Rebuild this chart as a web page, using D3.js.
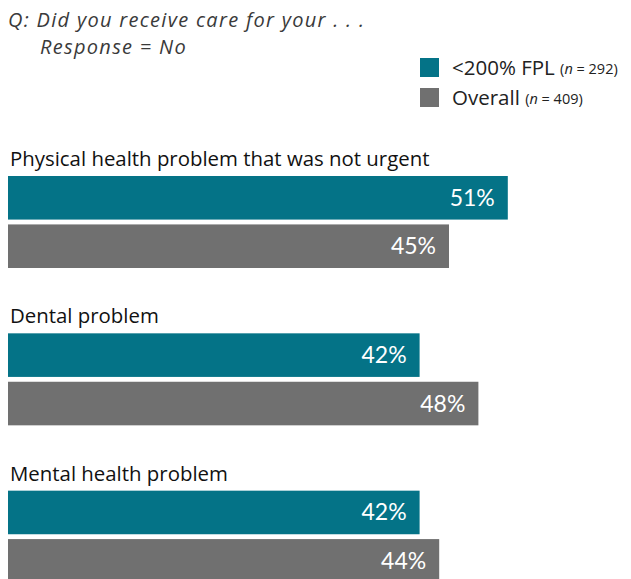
<!DOCTYPE html>
<html>
<head>
<meta charset="utf-8">
<script src="https://cdn.jsdelivr.net/npm/d3@7"></script>
<style>
  html, body { margin: 0; padding: 0; background: #fff; }
  svg { display: block; font-family: "Open Sans", Lato, sans-serif; }
</style>
</head>
<body>
<svg id="chart" width="631" height="579"></svg>
<script>
// Survey item: share answering "No" to receiving care
const categories = ["Physical health problem that was not urgent", "Dental problem", "Mental health problem"];
const seriesNames = ["<200% FPL", "Overall"];
const seriesN = ["292", "409"];
const fplValues = [51, 42, 42];
const overallValues = [45, 48, 44];
const colors = ["#047387", "#707070"];

const svg = d3.select("#chart");

// Question header
svg.append("text").attr("x", 8).attr("y", 27)
  .attr("font-size", 20).attr("font-style", "italic").attr("fill", "#3a3a3a")
  .attr("letter-spacing", 1.3)
  .text("Q: Did you receive care for your . . .");
svg.append("text").attr("x", 40).attr("y", 54)
  .attr("font-size", 20).attr("font-style", "italic").attr("fill", "#3a3a3a")
  .attr("letter-spacing", 1.3)
  .text("Response = No");

// Legend
const legend = svg.append("g");
seriesNames.forEach((name, i) => {
  const y0 = 58 + i * 30;
  legend.append("rect").attr("x", 420).attr("y", y0).attr("width", 19).attr("height", 19).attr("fill", colors[i]);
  const t = legend.append("text").attr("x", 452).attr("y", y0 + 17).attr("fill", "#222")
    .attr("font-size", 20.5);
  t.append("tspan").text(name + " ");
  const s = t.append("tspan").attr("font-size", 14.5).attr("dy", -1);
  s.append("tspan").text("(");
  s.append("tspan").attr("font-style", "italic").text("n");
  s.append("tspan").text(" = " + seriesN[i] + ")");
});

// Scales
const x = d3.scaleLinear().domain([0, 100]).range([8, 988]);
const groupY = d3.scaleBand().domain(categories).range([141, 613]).paddingInner(0).paddingOuter(0);
const barY = d3.scaleBand().domain(seriesNames).range([35, 127]).paddingInner(0.1).paddingOuter(0);

const data = categories.map((c, i) => ({ cat: c, vals: [fplValues[i], overallValues[i]] }));

const groups = svg.selectAll("g.grp").data(data).join("g")
  .attr("class", "grp")
  .attr("transform", d => `translate(0,${groupY(d.cat)})`);

groups.append("text").attr("x", 10).attr("y", 25)
  .attr("font-size", 20.4).attr("fill", "#111")
  .text(d => d.cat);

groups.each(function(d) {
  const g = d3.select(this);
  seriesNames.forEach((s, i) => {
    const v = d.vals[i];
    g.append("rect").attr("x", x(0)).attr("y", barY(s))
      .attr("width", x(v) - x(0)).attr("height", barY.bandwidth())
      .attr("fill", colors[i]);
    g.append("text").attr("x", x(v) - 13).attr("y", barY(s) + barY.bandwidth() / 2 + 8)
      .attr("text-anchor", "end").attr("font-size", 23).attr("fill", "#fff")
      .attr("font-family", "Lato, sans-serif")
      .text(v + "%");
  });
});
</script>
</body>
</html>
